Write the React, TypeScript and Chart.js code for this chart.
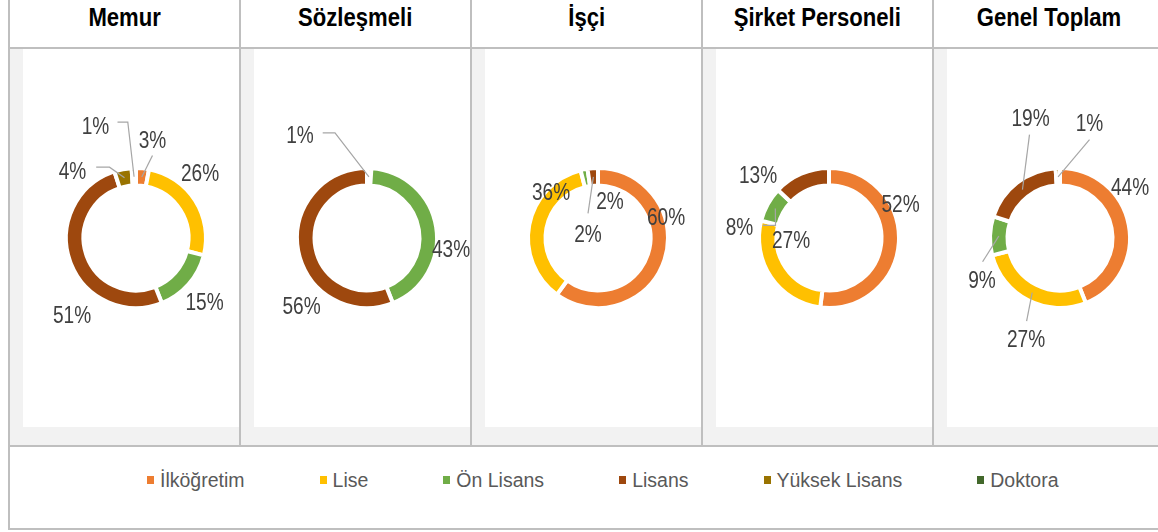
import React, { useEffect, useRef } from 'react';
import { Chart, registerables } from 'chart.js';

Chart.register(...registerables);

// ---------- data ----------
const categories = ['İlköğretim', 'Lise', 'Ön Lisans', 'Lisans', 'Yüksek Lisans', 'Doktora'];
const categoryColors = ['#ED7D31', '#FFC000', '#70AD47', '#9E480E', '#997300', '#43682B'];
const groupTitles = ['Memur', 'Sözleşmeli', 'İşçi', 'Şirket Personeli', 'Genel Toplam'];
const memurValues = [3, 26, 15, 51, 4, 1];
const sozlesmeliValues = [0, 1, 43, 56, 0, 0];
const isciValues = [60, 36, 1.6, 2.4, 0, 0];
const sirketValues = [52, 27, 8, 13, 0, 0];
const genelValues = [44, 27, 9, 19, 1, 0];

// ---------- label placement (relative to donut centre) ----------
type Lbl = { dx: number; dy: number; lead?: number[][] } | null;
const memurLabels: Lbl[] = [
  { dx: 16.5, dy: -98.5, lead: [[0, 16]] },
  { dx: 64, dy: -65 },
  { dx: 68.5, dy: 64 },
  { dx: -64, dy: 77 },
  { dx: -63.5, dy: -67.5, lead: [[23.7, -3.3], [37, -3.3]] },
  { dx: -40.5, dy: -112.5, lead: [[22, -3.3], [32.3, -3.3]] },
];
const sozlesmeliLabels: Lbl[] = [
  null,
  { dx: -67, dy: -103.5, lead: [[22.7, -1.7], [35, -1.7]] },
  { dx: 84, dy: 10.5 },
  { dx: -65.5, dy: 68 },
  null,
  null,
];
const isciLabels: Lbl[] = [
  { dx: 68, dy: -21 },
  { dx: -47, dy: -46 },
  { dx: 12, dy: -37 },
  { dx: -10, dy: -4, lead: [[0, -20.7]] },
  null,
  null,
];
const sirketLabels: Lbl[] = [
  { dx: 71.5, dy: -34.5 },
  { dx: -38, dy: 1.3 },
  { dx: -89.5, dy: -11, lead: [[23.3, -1.7], [36, -1.7]] },
  { dx: -71, dy: -63.7 },
  null,
  null,
];
const genelLabels: Lbl[] = [
  { dx: 70, dy: -51 },
  { dx: -34, dy: 100.7, lead: [[0.6, -17.5]] },
  { dx: -78, dy: 41.5, lead: [[0.6, -17.7]] },
  { dx: -29.5, dy: -120, lead: [[-1, 16.7]] },
  { dx: 29.5, dy: -115, lead: [[0, 16.7]] },
  null,
];

const groupValues = [memurValues, sozlesmeliValues, isciValues, sirketValues, genelValues];
const groupLabels = [memurLabels, sozlesmeliLabels, isciLabels, sirketLabels, genelLabels];

const REGULAR = '"Liberation Sans", Arial, sans-serif';
const LABEL_SCALE = 0.83;
const HEADER_SCALE = 0.85;
const LABEL_SIZE = 23;
const BORDER = '#bfbfbf';

const labelPlugin = {
  id: 'donutLabels',
  afterDatasetsDraw(chart: any, _args: any, opts: any) {
    const layout: Lbl[] = opts.layout || [];
    const ctx: CanvasRenderingContext2D = chart.ctx;
    const meta = chart.getDatasetMeta(0);
    const data = chart.data.datasets[0].data as number[];
    const total = data.reduce((a, b) => a + b, 0);
    meta.data.forEach((arc: any, i: number) => {
      const v = data[i];
      const L = layout[i];
      if (!v || !L) return;
      const { x, y } = arc.getProps(['x', 'y'], true);
      const lx = x + L.dx;
      const ly = y + L.dy;
      ctx.save();
      if (L.lead) {
        const tp = arc.tooltipPosition(true);
        ctx.beginPath();
        ctx.strokeStyle = '#a6a6a6';
        ctx.lineWidth = 1.2;
        L.lead.forEach((p, k) => {
          const px = lx + p[0];
          const py = ly + p[1];
          if (k === 0) ctx.moveTo(px, py);
          else ctx.lineTo(px, py);
        });
        ctx.lineTo(tp.x, tp.y);
        ctx.stroke();
      }
      ctx.translate(lx, ly + LABEL_SIZE * 0.358);
      ctx.scale(LABEL_SCALE, 1);
      ctx.font = `${LABEL_SIZE}px ${REGULAR}`;
      ctx.fillStyle = '#404040';
      ctx.textAlign = 'center';
      ctx.textBaseline = 'alphabetic';
      ctx.fillText(Math.round((v / total) * 100) + '%', 0, 0);
      ctx.restore();
    });
  },
};

const CW = 260;
const CH = 390;

function Donut({ values, layout, cx, cy }: { values: number[]; layout: Lbl[]; cx: number; cy: number }) {
  const ref = useRef<HTMLCanvasElement | null>(null);
  useEffect(() => {
    if (!ref.current) return;
    const chart = new Chart(ref.current, {
      type: 'doughnut',
      data: {
        labels: categories,
        datasets: [
          {
            data: values,
            backgroundColor: categoryColors,
            borderColor: '#ffffff',
            borderWidth: 4,
          },
        ],
      },
      options: {
        animation: false,
        responsive: false,
        devicePixelRatio: 1,
        radius: 70,
        cutout: '75%',
        events: [],
        layout: { padding: 0 },
        plugins: {
          legend: { display: false },
          tooltip: { enabled: false },
          // @ts-ignore
          donutLabels: { layout },
        },
      } as any,
      plugins: [labelPlugin as any],
    });
    return () => chart.destroy();
  }, []);
  return (
    <canvas
      ref={ref}
      width={CW}
      height={CH}
      style={{ position: 'absolute', left: cx - CW / 2, top: cy - CH / 2, width: CW, height: CH }}
    />
  );
}

const COL_W = 231;
const X0 = 8;

export default function App() {
  const cols = groupTitles.map((_, i) => X0 + i * COL_W);
  return (
    <div style={{ position: 'absolute', left: 0, top: 0, width: 1158, height: 532, overflow: 'hidden', background: '#fff' }}>
      {/* grey cells and white plot boxes */}
      {cols.map((x, i) => (
        <React.Fragment key={'c' + i}>
          <div style={{ position: 'absolute', left: x + 2, top: 49, width: COL_W - 2, height: 396, background: '#f2f2f2' }} />
          <div style={{ position: 'absolute', left: x + 15, top: 49, width: COL_W - 15, height: 378, background: '#ffffff' }} />
        </React.Fragment>
      ))}
      {/* vertical lines */}
      {[0, 1, 2, 3, 4, 5].map((i) => (
        <div key={'v' + i} style={{ position: 'absolute', left: X0 + i * COL_W, top: 0, width: 2, height: i === 0 ? 530 : 447, background: BORDER }} />
      ))}
      {/* horizontal lines */}
      {[47, 445, 528].map((y) => (
        <div key={'h' + y} style={{ position: 'absolute', left: X0, top: y, width: 1160, height: 2, background: BORDER }} />
      ))}
      {/* headers */}
      {groupTitles.map((t, i) => (
        <div
          key={'t' + i}
          style={{
            position: 'absolute',
            left: cols[i] + 2,
            width: COL_W - 2,
            top: 4,
            lineHeight: '26px',
            textAlign: 'center',
            whiteSpace: 'nowrap',
          }}
        >
          <span
            style={{
              display: 'inline-block',
              fontSize: 26,
              fontWeight: 'bold',
              fontFamily: REGULAR,
              color: '#000',
              transform: `scaleX(${HEADER_SCALE})`,
              transformOrigin: 'center',
            }}
          >
            {t}
          </span>
        </div>
      ))}
      {/* charts */}
      {groupValues.map((vals, i) => (
        <Donut key={'d' + i} values={vals} layout={groupLabels[i]} cx={cols[i] + 128} cy={238} />
      ))}
      {/* legend */}
      <div style={{ position: 'absolute', left: 147, top: 470, height: 20, display: 'flex', alignItems: 'center', gap: 75 }}>
        {categories.map((c, i) => (
          <div key={'l' + i} style={{ display: 'flex', alignItems: 'center' }}>
            <span style={{ display: 'inline-block', width: 7, height: 8, background: categoryColors[i], marginRight: 6 }} />
            <span style={{ fontFamily: REGULAR, fontSize: 19.5, lineHeight: '20px', color: '#595959', whiteSpace: 'nowrap' }}>{c}</span>
          </div>
        ))}
      </div>
    </div>
  );
}
